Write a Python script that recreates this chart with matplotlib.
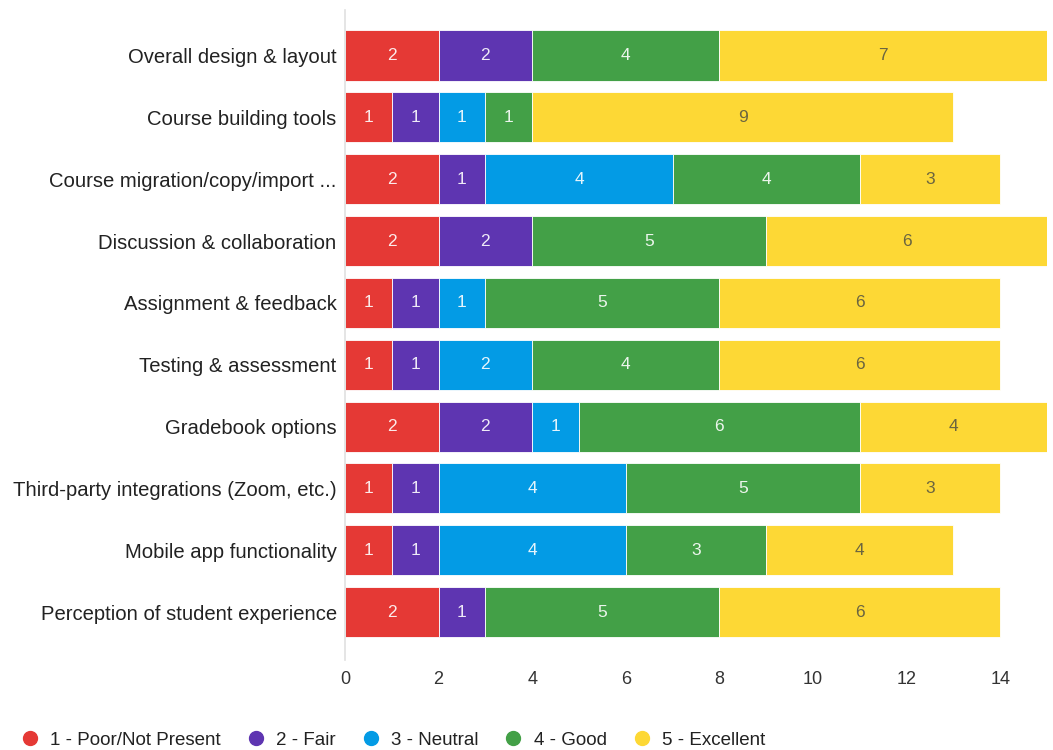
import matplotlib
matplotlib.use("Agg")
import matplotlib.pyplot as plt
from matplotlib.lines import Line2D
import numpy as np

plt.rcParams['font.family'] = ['Liberation Sans', 'DejaVu Sans']

categories = [
    "Overall design & layout",
    "Course building tools",
    "Course migration/copy/import ...",
    "Discussion & collaboration",
    "Assignment & feedback",
    "Testing & assessment",
    "Gradebook options",
    "Third-party integrations (Zoom, etc.)",
    "Mobile app functionality",
    "Perception of student experience",
]
series_names = ["1 - Poor/Not Present", "2 - Fair", "3 - Neutral", "4 - Good", "5 - Excellent"]
poor      = [2, 1, 2, 2, 1, 1, 2, 1, 1, 2]
fair      = [2, 1, 1, 2, 1, 1, 2, 1, 1, 1]
neutral   = [0, 1, 4, 0, 1, 2, 1, 4, 4, 0]
good      = [4, 1, 4, 5, 5, 4, 6, 5, 3, 5]
excellent = [7, 9, 3, 6, 6, 6, 4, 3, 4, 6]
series = [poor, fair, neutral, good, excellent]
colors = ["#E53935", "#5E35B1", "#039BE5", "#43A047", "#FDD835"]
label_colors = ["white", "white", "white", "white", "#6b6540"]
xticks = [0, 2, 4, 6, 8, 10, 12, 14]

fig = plt.figure(figsize=(10.53, 7.5), dpi=100)
ax = fig.add_axes([345/1053, 1 - 660/750, (1047 - 345)/1053, 650/750])

y = np.arange(len(categories))
left = np.zeros(len(categories))
for vals, col, lc in zip(series, colors, label_colors):
    vals = np.array(vals, dtype=float)
    ax.barh(y, vals, left=left, height=0.81, color=col,
            edgecolor='white', linewidth=0.6)
    for yi, (l, v) in enumerate(zip(left, vals)):
        if v > 0:
            ax.text(l + v / 2, yi, f"{int(v)}", ha='center', va='center',
                    color=lc, fontsize=12.5, alpha=0.9 if lc == 'white' else 1)
    left += vals

ax.set_xlim(0, 15)
ax.set_ylim(9.775, -0.736)
ax.set_yticks(y)
ax.set_yticklabels(categories, fontsize=14.6, color='#222222')
ax.set_xticks(xticks)
ax.set_xticklabels([str(t) for t in xticks], fontsize=13, color='#333333')
ax.tick_params(axis='both', length=0)
ax.tick_params(axis='y', pad=6)
ax.tick_params(axis='x', pad=8)
for s in ['top', 'right', 'bottom']:
    ax.spines[s].set_visible(False)
ax.spines['left'].set_color('#e0e0e0')
ax.spines['left'].set_linewidth(1.2)

handles = [Line2D([0], [0], marker='o', linestyle='', markersize=10,
                  markerfacecolor=c, markeredgecolor=c) for c in colors]
fig.legend(handles, series_names, loc='center left',
           bbox_to_anchor=(-6/1053, 1 - 740/750), ncol=5, frameon=False,
           fontsize=13.5, handletextpad=0.1, columnspacing=0.85,
           labelcolor='#222222')

fig.savefig("out.png", dpi=100)
